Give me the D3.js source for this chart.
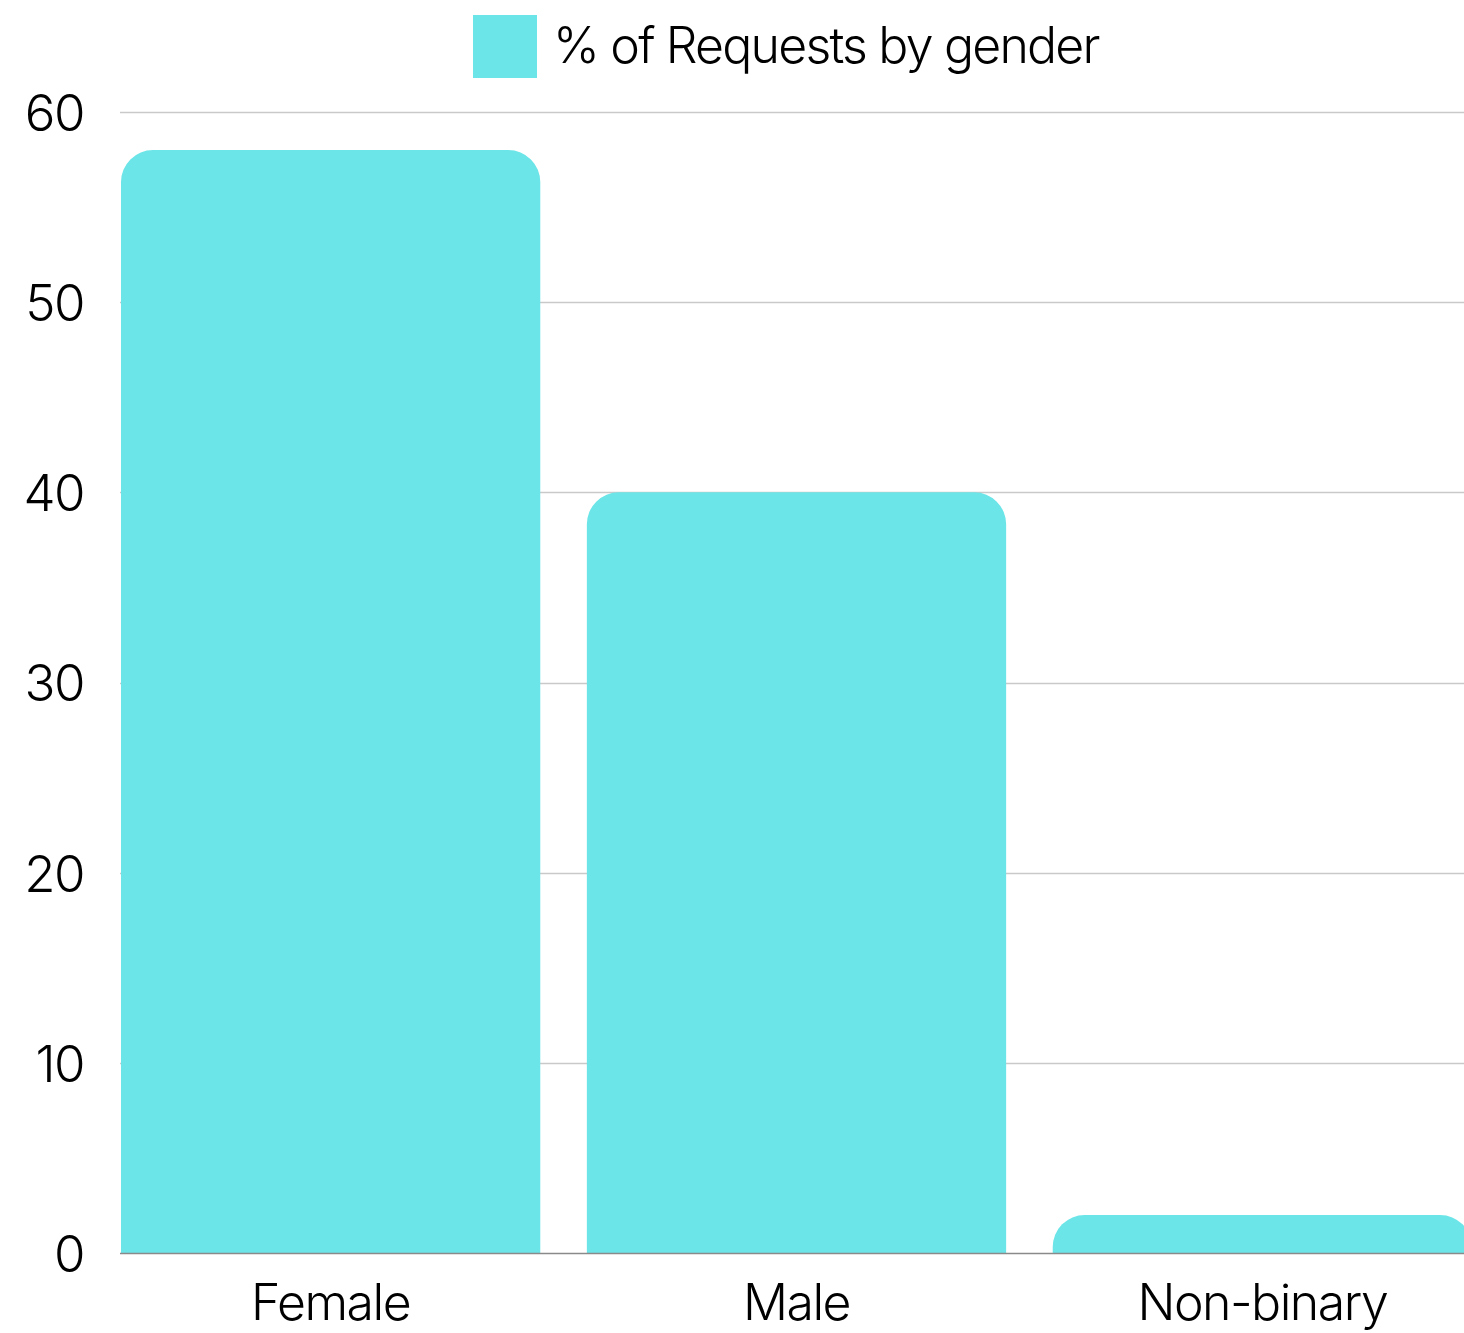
<!DOCTYPE html>
<html><head><meta charset="utf-8">
<script src="https://cdn.jsdelivr.net/npm/d3@7"></script>
<style>
html,body{margin:0;padding:0;background:#fff;overflow:hidden;}
text{font-family:Inter,"Noto Sans",sans-serif;fill:#000;font-weight:300;}
</style></head>
<body>
<svg id="chart" width="1464" height="1333"></svg>
<script>
const categories = ["Female", "Male", "Non-binary"];
const values = [58, 40, 2];
const yTicks = [0, 10, 20, 30, 40, 50, 60];
const seriesName = "% of Requests by gender";
const barColor = "#6ce5e8";

(function () {
const svg = d3.select("#chart");
const mLeft = 121, mRight = 1472, plotRight = 1464, mTop = 112, mBottom = 1253;

const x = d3.scaleBand().domain(categories).range([mLeft, mRight]).paddingInner(0.1).paddingOuter(0);
const y = d3.scaleLinear().domain([0, 60]).range([mBottom, mTop]);

// gridlines
svg.append("g").selectAll("line").data(yTicks.filter(t => t > 0)).join("line")
  .attr("x1", mLeft - 1).attr("x2", plotRight)
  .attr("y1", d => Math.round(y(d)) + 0.5).attr("y2", d => Math.round(y(d)) + 0.5)
  .attr("stroke", "#c9c9c9").attr("stroke-width", 1.5);

// y tick labels
const yAxis = d3.axisLeft(y).tickValues(yTicks).tickSize(0).tickPadding(0);
const gy = svg.append("g").attr("transform", "translate(84,0)").call(yAxis);
gy.select(".domain").remove();
gy.selectAll("text").attr("font-size", 51).attr("font-family", "Inter").attr("fill", "#000")
  .attr("dy", "0.36em").style("letter-spacing", "-1.5px");

// bars
const r = 32;
function barPath(x0, x1, yTop, yBot) {
  const rr = Math.min(r, (yBot - yTop), (x1 - x0) / 2);
  return `M${x0},${yBot}V${yTop + rr}A${rr},${rr} 0 0 1 ${x0 + rr},${yTop}H${x1 - rr}A${rr},${rr} 0 0 1 ${x1},${yTop + rr}V${yBot}Z`;
}
svg.append("g").selectAll("path").data(categories).join("path")
  .attr("d", (c, i) => barPath(x(c), x(c) + x.bandwidth(), y(values[i]), y(0)))
  .attr("fill", barColor);

// baseline
svg.append("line").attr("x1", mLeft - 1).attr("x2", plotRight)
  .attr("y1", y(0) + 0.5).attr("y2", y(0) + 0.5).attr("stroke", "#8a8a8a").attr("stroke-width", 1.5);

// x labels
const xAxis = d3.axisBottom(x).tickSize(0).tickPadding(0);
const gx = svg.append("g").attr("transform", `translate(0,${mBottom})`).call(xAxis);
gx.select(".domain").remove();
gx.selectAll("text").attr("font-size", 50).attr("font-family", "Inter").attr("fill", "#000")
  .attr("dy", "0").attr("y", 67).style("letter-spacing", "-1.5px");

// legend
const lg = svg.append("g");
lg.append("rect").attr("x", 473).attr("y", 15).attr("width", 64).attr("height", 63).attr("fill", barColor);
lg.append("text").attr("x", 553).attr("y", 63).attr("font-size", 50).style("letter-spacing", "-1.8px").text(seriesName);
})();
</script>
</body></html>
